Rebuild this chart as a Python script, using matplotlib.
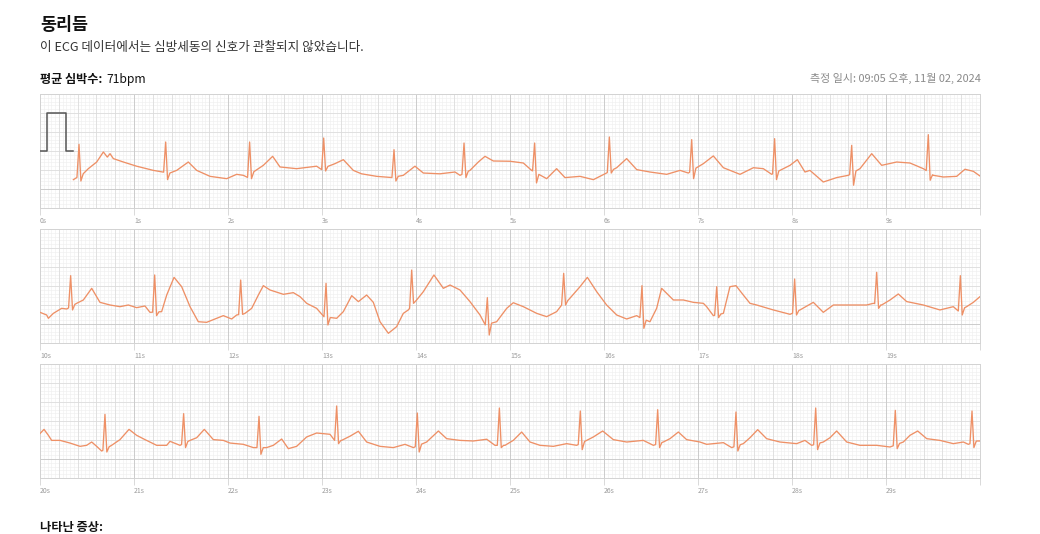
import numpy as np
import matplotlib
matplotlib.use("Agg")
import matplotlib.pyplot as plt

plt.rcParams['font.family'] = ['Noto Sans CJK KR', 'DejaVu Sans']

# ---- text ----
title = "동리듬"
subtitle = "이 ECG 데이터에서는 심방세동의 신호가 관찰되지 않았습니다."
hr_label = "평균 심박수:"
hr_value = "71bpm"
measured_at = "측정 일시: 09:05 오후, 11월 02, 2024"
symptoms_label = "나타난 증상:"

strip_starts = [0, 10, 20]

# ---- calibration pulse (s, mV) ----
cal_t = [0.0, 0.078, 0.078, 0.28, 0.28, 0.354]
cal_v = [0.0, 0.0, 1.0, 1.0, 0.0, 0.0]

# ---- QRS complexes: R-peak time (s), R peak (mV), S trough (mV) ----
r_times_1 = [0.415, 1.337, 2.230, 3.018, 3.766, 4.511, 5.262, 6.057, 6.933, 7.815, 8.635, 9.450]
r_peak_1 = [0.175, 0.237, 0.237, 0.342, 0.035, 0.21, 0.21, 0.368, 0.30, 0.325, 0.149, 0.43]
s_trough_1 = [-0.79, -0.754, -0.728, -0.526, -0.79, -0.70, -0.84, -0.58, -0.728, -0.754, -0.90, -0.77]

r_times_2 = [10.326, 11.220, 12.135, 13.043, 13.954, 14.759, 15.571, 16.404, 17.199, 18.028, 18.901, 19.791]
r_peak_2 = [0.272, 0.29, 0.158, 0.07, 0.42, -0.307, 0.333, 0.009, -0.018, 0.184, 0.36, 0.272]
s_trough_2 = [-0.63, -0.78, -0.745, -1.026, -0.456, -1.29, -0.50, -1.114, -0.833, -0.763, -0.588, -0.763]

r_times_3 = [20.691, 21.528, 22.330, 23.156, 24.014, 24.887, 25.748, 26.571, 27.404, 28.252, 29.099, 29.915]
r_peak_3 = [0.175, 0.193, 0.123, 0.395, 0.21, 0.342, 0.263, 0.298, 0.237, 0.342, 0.28, 0.263]
s_trough_3 = [-0.816, -0.70, -0.877, -0.596, -0.816, -0.70, -0.754, -0.70, -0.79, -0.754, -0.728, -0.70]

# ---- baseline, P and T waves (s, mV) ----
wave_t_1 = [0.355, 0.390, 0.443, 0.514, 0.603, 0.674, 0.716, 0.745, 0.780, 0.887, 1.028, 1.206, 1.294,
            1.383, 1.454, 1.578, 1.667, 1.809, 1.986, 2.092, 2.163, 2.206, 2.270, 2.376, 2.475, 2.553,
            2.730, 2.943, 2.996, 3.067, 3.138, 3.227, 3.333, 3.420, 3.582, 3.741, 3.865, 3.989, 4.078,
            4.255, 4.415, 4.468, 4.574, 4.663, 4.734, 4.823, 5.000, 5.142, 5.230, 5.390, 5.496, 5.585,
            5.745, 5.887, 6.011, 6.135, 6.241, 6.348, 6.489, 6.667, 6.809, 6.897, 6.968, 7.057, 7.163,
            7.270, 7.447, 7.589, 7.695, 7.784, 7.872, 7.979, 8.057, 8.138, 8.191, 8.333, 8.475, 8.599,
            8.723, 8.848, 8.954, 9.113, 9.255, 9.397, 9.504, 9.610, 9.752, 9.840, 9.929, 10.0]
wave_v_1 = [-0.754, -0.70, -0.64, -0.465, -0.29, -0.026, -0.16, -0.07, -0.20, -0.29, -0.40, -0.51, -0.55,
            -0.58, -0.51, -0.29, -0.51, -0.667, -0.728, -0.614, -0.64, -0.70, -0.553, -0.377, -0.14, -0.42,
            -0.465, -0.40, -0.49, -0.40, -0.333, -0.228, -0.51, -0.60, -0.667, -0.70, -0.64, -0.40, -0.58,
            -0.60, -0.553, -0.64, -0.51, -0.29, -0.14, -0.263, -0.27, -0.316, -0.51, -0.728, -0.465, -0.70,
            -0.667, -0.754, -0.60, -0.44, -0.20, -0.49, -0.553, -0.614, -0.51, -0.58, -0.465, -0.333, -0.13,
            -0.44, -0.614, -0.44, -0.465, -0.614, -0.51, -0.377, -0.228, -0.553, -0.51, -0.816, -0.70, -0.64,
            -0.465, -0.07, -0.377, -0.29, -0.316, -0.465, -0.64, -0.684, -0.667, -0.48, -0.535, -0.658]

wave_t_2 = [10.000, 10.071, 10.089, 10.142, 10.230, 10.284, 10.390, 10.461, 10.550, 10.638, 10.745, 10.851,
            10.940, 11.028, 11.117, 11.170, 11.294, 11.348, 11.426, 11.507, 11.596, 11.684, 11.773, 11.862,
            11.950, 12.039, 12.092, 12.181, 12.252, 12.323, 12.376, 12.447, 12.589, 12.695, 12.766, 12.837,
            12.943, 13.014, 13.156, 13.227, 13.316, 13.387, 13.475, 13.546, 13.617, 13.706, 13.794, 13.865,
            13.918, 14.007, 14.078, 14.191, 14.291, 14.362, 14.468, 14.574, 14.681, 14.734, 14.858, 14.965,
            15.035, 15.142, 15.284, 15.390, 15.496, 15.550, 15.621, 15.745, 15.823, 15.922, 16.028, 16.135,
            16.241, 16.348, 16.383, 16.489, 16.560, 16.613, 16.738, 16.844, 16.950, 17.057, 17.092, 17.163,
            17.270, 17.340, 17.404, 17.482, 17.553, 17.624, 17.801, 17.979, 18.085, 18.227, 18.333, 18.440,
            18.617, 18.794, 18.865, 18.954, 19.043, 19.131, 19.220, 19.397, 19.574, 19.716, 19.770, 19.858,
            19.929, 20.000]
wave_v_2 = [-0.693, -0.763, -0.85, -0.72, -0.588, -0.605, -0.456, -0.368, -0.061, -0.43, -0.50, -0.544,
            -0.50, -0.57, -0.526, -0.693, -0.675, -0.237, 0.228, -0.018, -0.544, -0.94, -0.956, -0.868,
            -0.78, -0.868, -0.763, -0.72, -0.588, -0.237, 0.009, -0.105, -0.219, -0.175, -0.28, -0.456,
            -0.588, -0.807, -0.85, -0.675, -0.254, -0.412, -0.237, -0.43, -0.94, -1.245, -1.07, -0.72,
            -0.63, -0.368, -0.149, 0.29, -0.061, 0.026, -0.105, -0.41, -0.763, -1.026, -0.94, -0.588,
            -0.44, -0.544, -0.72, -0.807, -0.675, -0.50, -0.368, -0.018, 0.228, -0.149, -0.50, -0.763,
            -0.868, -0.78, -0.833, -0.94, -0.588, -0.061, -0.368, -0.368, -0.43, -0.456, -0.544, -0.78,
            -0.72, -0.018, 0.009, -0.237, -0.456, -0.50, -0.63, -0.745, -0.63, -0.43, -0.693, -0.50,
            -0.50, -0.50, -0.456, -0.50, -0.368, -0.21, -0.41, -0.50, -0.63, -0.544, -0.66, -0.544,
            -0.43, -0.28]

wave_t_3 = [20.000, 20.043, 20.089, 20.124, 20.213, 20.319, 20.426, 20.496, 20.550, 20.603, 20.656, 20.762,
            20.851, 20.947, 21.028, 21.117, 21.241, 21.348, 21.383, 21.489, 21.596, 21.667, 21.748, 21.844,
            21.950, 22.021, 22.163, 22.270, 22.411, 22.482, 22.571, 22.642, 22.730, 22.837, 22.943, 23.085,
            23.128, 23.209, 23.298, 23.387, 23.475, 23.617, 23.759, 23.883, 23.972, 24.113, 24.238, 24.326,
            24.468, 24.610, 24.752, 24.840, 24.947, 25.035, 25.124, 25.213, 25.319, 25.461, 25.603, 25.709,
            25.816, 25.887, 25.986, 26.099, 26.241, 26.418, 26.525, 26.631, 26.702, 26.791, 26.879, 27.021,
            27.092, 27.270, 27.358, 27.482, 27.553, 27.635, 27.730, 27.872, 28.050, 28.138, 28.209, 28.333,
            28.404, 28.475, 28.582, 28.723, 28.901, 29.043, 29.184, 29.255, 29.337, 29.433, 29.574, 29.716,
            29.823, 29.876, 29.965, 30.000]
wave_v_3 = [-0.33, -0.22, -0.377, -0.51, -0.51, -0.58, -0.667, -0.64, -0.553, -0.667, -0.79, -0.64,
            -0.49, -0.22, -0.377, -0.49, -0.64, -0.64, -0.535, -0.64, -0.51, -0.44, -0.22, -0.49,
            -0.51, -0.58, -0.614, -0.70, -0.70, -0.64, -0.474, -0.728, -0.667, -0.42, -0.316, -0.35,
            -0.51, -0.51, -0.40, -0.27, -0.553, -0.667, -0.70, -0.614, -0.70, -0.553, -0.263, -0.465,
            -0.51, -0.526, -0.48, -0.64, -0.64, -0.51, -0.29, -0.553, -0.64, -0.667, -0.596, -0.64,
            -0.51, -0.42, -0.263, -0.49, -0.553, -0.51, -0.64, -0.553, -0.465, -0.29, -0.49, -0.553,
            -0.614, -0.57, -0.70, -0.596, -0.44, -0.228, -0.465, -0.553, -0.596, -0.51, -0.64, -0.553,
            -0.44, -0.263, -0.553, -0.64, -0.64, -0.684, -0.553, -0.377, -0.263, -0.465, -0.51, -0.596,
            -0.553, -0.614, -0.526, -0.526]

strips = [
    (wave_t_1, wave_v_1, r_times_1, r_peak_1, s_trough_1),
    (wave_t_2, wave_v_2, r_times_2, r_peak_2, s_trough_2),
    (wave_t_3, wave_v_3, r_times_3, r_peak_3, s_trough_3),
]

TRACE_COLOR = '#EE9066'
W, H = 1040, 534


def assemble_trace(wt, wv, rt, rv, sv):
    """Merge the slow-wave vertices with the QRS vertices of every beat."""
    wt = np.asarray(wt, float)
    wv = np.asarray(wv, float)
    keep = np.ones(len(wt), bool)
    for t in rt:
        keep &= ~((wt > t - 0.03) & (wt < t + 0.05))
    ts = list(wt[keep])
    vs = list(wv[keep])
    for t, r, s in zip(rt, rv, sv):
        ts += [t - 0.022, t, t + 0.02, t + 0.045]
        vs += [np.interp(t - 0.022, wt, wv), r, s, np.interp(t + 0.045, wt, wv)]
    order = np.argsort(ts)
    return np.asarray(ts)[order], np.asarray(vs)[order]


def ecg_paper(ax, t0):
    ax.set_xlim(t0, t0 + 10)
    ax.set_ylim(-1.5, 1.5)
    y0, y1 = -1.5, 1.5
    xs_minor = t0 + np.arange(0, 251) * 0.04
    xs_major = t0 + np.arange(0, 51) * 0.2
    xs_heavy = t0 + np.arange(0, 11) * 1.0
    ys_minor = -1.5 + np.arange(0, 31) * 0.1
    ys_major = -1.5 + np.arange(0, 7) * 0.5
    ax.vlines(xs_minor, y0, y1, color='#f0f0f0', lw=0.45, zorder=0)
    ax.hlines(ys_minor, t0, t0 + 10, color='#f0f0f0', lw=0.45, zorder=0)
    ax.vlines(xs_major, y0, y1, color='#dcdcdc', lw=0.55, zorder=0.5)
    ax.hlines(ys_major, t0, t0 + 10, color='#dcdcdc', lw=0.55, zorder=0.5)
    ax.vlines(xs_heavy, y0, y1, color='#cbcbcb', lw=0.65, zorder=0.6)
    ax.hlines([-1.0], t0, t0 + 10, color='#cbcbcb', lw=0.65, zorder=0.6)
    for sp in ax.spines.values():
        sp.set_color('#d3d3d3')
        sp.set_linewidth(0.7)
    ticks = t0 + np.arange(0, 11)
    ax.set_xticks(ticks)
    ax.set_xticklabels([f"{int(t)}s" for t in ticks[:-1]] + [""])
    for lab in ax.get_xticklabels():
        lab.set_horizontalalignment('left')
    ax.tick_params(axis='x', length=5, width=0.6, color='#d3d3d3', pad=1.5,
                   labelsize=5, labelcolor='#9a9a9a')
    ax.set_yticks([])


fig = plt.figure(figsize=(W / 100, H / 100), dpi=100)

tops = [94, 229, 364]
for k, (t0, top) in enumerate(zip(strip_starts, tops)):
    ax = fig.add_axes([40 / W, 1 - (top + 114) / H, 940 / W, 114 / H])
    ecg_paper(ax, t0)
    wt, wv, rt, rv, sv = strips[k]
    ts, vs = assemble_trace(wt, wv, rt, rv, sv)
    ax.plot(ts, vs, color=TRACE_COLOR, lw=0.95, zorder=3, solid_joinstyle='round')
    if k == 0:
        ax.plot(cal_t, cal_v, color='#555555', lw=1.1, zorder=3)


def px(x, y):
    return x / W, 1 - y / H


fig.text(*px(40, 25), title, fontsize=12.5, fontweight='bold', color='#111111', va='center', ha='left')
fig.text(*px(40, 47), subtitle, fontsize=9.1, color='#333333', va='center', ha='left')
lab = fig.text(*px(40, 80), hr_label, fontsize=8.7, fontweight='bold', color='#111111', va='center', ha='left')
fig.canvas.draw()
bb = lab.get_window_extent()
fig.text((bb.x1 + 4) / W, 1 - 80 / H, hr_value, fontsize=8.7, color='#111111', va='center', ha='left')
fig.text(*px(981, 78), measured_at, fontsize=7.9, color='#8a8a8a', va='center', ha='right')
fig.text(*px(40, 528), symptoms_label, fontsize=8.8, fontweight='bold', color='#111111', va='center', ha='left')

fig.savefig('out.png', dpi=100, facecolor='white')
